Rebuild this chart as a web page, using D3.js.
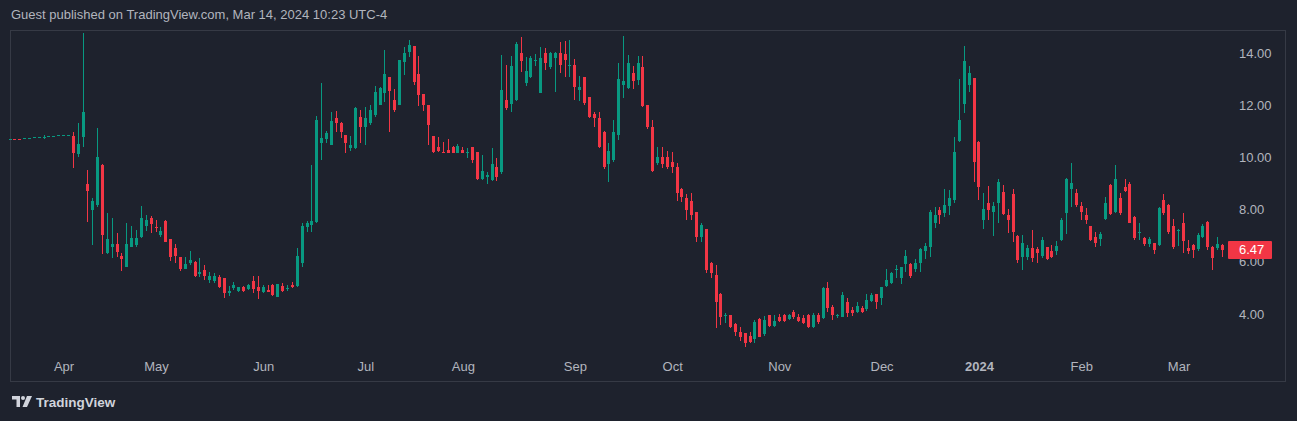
<!DOCTYPE html>
<html><head><meta charset="utf-8">
<script src="https://cdn.jsdelivr.net/npm/d3@7"></script>
<style>
html,body{margin:0;padding:0;background:#1e222d;}
svg{display:block;}
</style></head><body>
<svg id="c" width="1297" height="421"></svg>
<script>
const openP = [
10.69,10.71,10.72,10.72,10.74,10.76,10.77,10.78,10.80,10.82,10.83,10.84,10.85,
10.82,10.13,10.77,8.98,7.98,8.18,9.71,6.35,6.58,6.68,
6.22,5.81,6.58,6.64,6.94,7.37,7.67,7.35,7.02,7.58,
6.89,6.52,6.20,5.71,5.97,6.00,5.52,5.69,5.30,5.25,
5.43,5.37,4.79,4.98,4.89,5.02,4.96,5.28,5.05,4.86,
4.92,5.11,4.64,5.07,4.98,5.11,5.07,5.97,7.32,7.41,
7.54,10.56,10.69,10.48,11.52,11.31,10.86,10.35,10.35,11.54,
11.18,11.33,11.62,12.01,12.48,13.09,12.20,12.01,13.67,14.05,
14.27,13.20,12.43,12.01,10.82,10.39,10.22,10.28,10.39,10.18,
10.28,10.20,10.39,10.22,9.16,9.26,9.13,9.64,9.43,12.20,
12.05,12.20,14.01,12.84,13.07,13.70,12.48,14.01,13.48,13.80,
14.01,13.96,13.53,13.54,12.58,13.09,12.33,11.66,11.50,10.98,
9.75,9.90,10.86,12.77,12.65,13.22,12.97,13.48,12.01,11.18,
9.77,10.00,10.00,9.84,9.64,8.78,8.43,8.34,7.92,6.96,
7.24,5.94,5.49,4.77,3.92,3.96,3.62,3.32,3.26,3.16,
3.03,3.80,3.23,3.96,3.54,3.87,3.96,3.80,4.07,3.90,
3.84,3.96,3.51,3.96,3.84,4.98,4.26,3.95,3.90,4.47,
4.15,4.09,4.22,4.18,4.51,4.77,4.60,5.07,5.20,5.70,
5.37,5.92,5.92,5.71,5.97,6.43,6.58,7.48,7.98,7.86,
8.14,8.37,10.64,12.05,12.77,13.03,10.60,7.60,8.24,7.92,
8.24,8.69,7.79,8.60,6.99,6.20,6.20,6.52,6.48,6.22,
6.56,6.43,6.43,6.84,7.86,8.78,8.62,8.14,7.79,7.37,
6.94,6.86,7.63,8.94,7.92,8.43,8.88,8.98,7.73,7.14,
6.90,6.67,6.71,6.64,8.37,8.18,7.37,7.18,7.50,6.52,
6.64,6.48,6.96,7.54,6.58,6.52,6.65];
const highP = [
10.70,10.71,10.72,10.74,10.75,10.77,10.78,10.84,10.82,10.83,10.84,10.86,10.87,
10.98,11.31,14.75,9.52,8.43,11.12,9.75,7.86,7.67,7.09,
6.33,7.48,7.37,7.22,8.14,7.79,7.75,7.60,7.33,7.60,
6.89,6.67,6.20,6.17,6.43,6.04,6.13,5.88,5.62,5.58,
5.49,5.37,5.07,5.24,5.05,5.07,5.15,5.46,5.46,5.11,
5.11,5.15,5.15,5.18,5.11,5.24,6.52,7.50,7.58,9.71,
11.59,12.86,11.02,11.75,11.79,11.37,10.86,10.82,11.92,11.82,
11.92,12.01,12.74,12.70,14.11,13.09,12.61,13.75,14.24,14.50,
14.27,13.89,12.43,12.01,10.82,10.79,10.60,10.70,10.45,10.50,
10.40,10.35,10.39,10.22,10.09,9.45,10.35,9.97,13.92,13.54,
13.89,14.43,14.60,13.84,13.90,13.96,14.24,14.18,14.05,14.05,
14.43,14.47,14.50,13.76,13.12,13.09,12.33,11.75,11.75,11.02,
10.56,11.43,13.61,14.65,13.92,13.50,13.89,13.89,12.01,11.43,
10.41,10.38,10.25,10.22,9.77,8.82,8.60,8.62,7.92,7.48,
7.24,6.00,5.88,4.82,4.03,3.96,3.64,3.51,3.28,3.30,
3.77,3.85,3.92,3.96,3.96,4.00,4.00,4.00,4.15,4.00,
3.96,4.00,4.03,4.05,5.02,5.24,4.34,4.00,4.86,4.60,
4.25,4.45,4.30,4.77,4.82,4.77,5.02,5.71,5.62,5.88,
5.79,6.45,5.97,6.10,6.52,6.71,7.98,8.11,8.09,8.78,
8.75,10.79,12.99,14.27,13.50,13.03,10.64,8.62,8.90,8.30,
9.16,8.95,8.01,8.78,7.03,7.03,6.65,7.22,6.55,6.94,
6.56,6.65,6.80,7.68,9.20,9.77,8.80,8.30,8.05,7.37,
7.15,7.15,8.50,9.00,9.71,8.65,9.16,9.07,7.75,7.50,
6.95,6.95,6.73,8.10,8.60,8.22,7.65,7.24,7.88,6.84,
6.68,7.10,7.45,7.58,6.61,6.94,6.68];
const lowP = [
10.68,10.69,10.70,10.72,10.73,10.75,10.76,10.72,10.79,10.81,10.82,10.83,10.84,
9.58,10.03,10.39,7.54,6.64,8.11,6.30,6.30,6.16,6.20,
5.66,5.81,6.56,6.58,6.90,7.19,7.11,7.15,6.94,6.76,
6.04,5.97,5.66,5.71,5.88,5.43,5.43,5.30,5.18,5.18,
4.98,4.60,4.69,4.92,4.85,4.85,4.92,4.79,4.56,4.80,
4.88,4.69,4.64,4.85,4.89,5.00,5.05,5.79,7.15,7.15,
7.50,9.90,10.54,10.48,10.98,10.73,10.18,10.26,10.31,10.54,
10.48,11.24,11.54,12.01,12.13,10.98,11.75,12.01,13.16,13.86,
12.77,11.97,11.79,10.48,10.15,10.22,10.15,10.15,10.15,10.15,
10.15,9.97,9.80,9.13,9.13,8.98,9.11,9.11,9.36,11.82,
11.75,12.17,13.28,12.74,13.05,13.50,12.46,13.35,13.40,12.52,
13.22,13.09,13.09,12.20,12.17,12.00,11.50,11.18,10.36,9.54,
9.07,9.84,10.67,12.26,12.61,12.61,12.77,11.94,11.10,9.45,
9.71,9.60,9.55,9.39,8.34,8.30,7.60,7.60,6.77,6.77,
5.58,5.37,3.45,3.58,3.64,3.45,3.16,2.98,2.72,2.88,
2.88,3.10,3.16,3.50,3.50,3.70,3.70,3.77,3.80,3.70,
3.62,3.45,3.45,3.62,3.80,4.09,3.77,3.86,3.87,3.87,
3.92,4.03,4.05,4.13,4.45,4.18,4.34,5.02,5.15,5.37,
5.15,5.62,5.37,5.62,5.62,6.10,6.20,7.28,7.45,7.73,
7.80,8.27,10.60,11.71,12.52,9.07,8.37,7.24,7.60,6.99,
7.50,7.80,7.09,6.77,5.95,5.69,6.05,6.00,5.95,6.15,
6.05,6.15,6.25,6.80,7.05,8.11,8.10,7.60,7.45,6.80,
6.55,6.60,7.60,7.78,7.86,7.80,8.69,7.48,6.85,6.84,
6.60,6.55,6.30,6.60,7.79,7.05,6.50,6.60,6.35,6.30,
6.13,6.40,6.90,6.45,5.69,6.45,6.17];
const closeP = [
10.69,10.69,10.70,10.73,10.75,10.77,10.78,10.79,10.81,10.83,10.84,10.85,10.86,
10.18,10.51,11.75,8.72,8.34,10.00,7.03,6.86,6.68,6.38,
6.12,6.67,6.93,6.93,7.69,7.60,7.45,7.30,7.19,6.76,
6.20,6.22,5.72,5.92,6.07,5.47,5.62,5.47,5.47,5.45,
5.02,4.79,4.88,5.11,5.02,4.89,5.11,4.96,4.89,5.02,
4.83,4.73,5.15,4.89,5.00,5.02,6.22,7.37,7.50,7.58,
11.43,10.76,10.92,11.41,11.31,10.98,10.54,10.48,11.88,11.18,
11.50,11.82,12.52,12.65,13.20,12.56,11.82,13.73,13.99,14.31,
12.90,12.39,12.01,11.24,10.22,10.26,10.18,10.18,10.18,10.44,
10.18,10.21,9.90,9.16,9.49,9.33,9.75,9.26,12.58,11.88,
13.50,14.33,13.71,13.32,13.80,13.72,13.80,13.61,14.01,14.01,
13.54,13.73,13.55,12.69,12.71,12.07,11.54,11.50,10.39,9.62,
10.26,10.98,12.99,12.94,13.61,12.94,13.61,11.97,11.18,9.49,
10.00,9.75,9.62,9.62,8.62,8.47,7.98,7.79,6.96,7.41,
5.69,5.58,4.47,3.90,3.96,3.51,3.32,3.13,2.88,2.94,
3.71,3.13,3.77,3.54,3.74,3.74,3.74,3.96,3.87,3.74,
3.67,3.51,3.96,3.71,4.98,4.22,3.96,3.97,4.73,4.03,
4.03,4.31,4.09,4.54,4.73,4.47,5.02,5.30,5.58,5.72,
5.79,6.22,5.46,5.97,6.50,6.61,7.92,7.79,7.79,8.18,
8.43,10.22,11.43,13.71,13.24,9.84,8.85,8.01,7.98,8.14,
9.07,7.83,7.60,7.15,6.07,6.71,6.52,6.13,6.33,6.84,
6.10,6.20,6.61,7.60,9.16,9.01,8.18,7.92,7.60,6.84,
6.73,7.07,8.24,7.83,9.16,7.86,8.72,7.50,6.90,7.16,
6.68,6.86,6.45,8.05,7.86,7.15,6.56,7.20,6.81,6.43,
6.45,7.03,7.37,6.58,6.13,6.68,6.47];

const monthLabels = ["Apr","May","Jun","Jul","Aug","Sep","Oct","Nov","Dec","2024","Feb","Mar"];
const monthIndex  = [11,30,52,73,93,116,136,158,179,199,220,240];
const priceTicks  = [4,6,8,10,12,14];
const lastPrice   = 6.47;
const headerText  = "Guest published on TradingView.com, Mar 14, 2024 10:23 UTC-4";

const UP = "#089981", DOWN = "#f23645", TXT = "#b2b5be";
const FONT = "'Liberation Sans', Arial, sans-serif";
const svg = d3.select("#c");
const n = closeP.length;

const x = d3.scaleLinear().domain([0, n - 1]).range([10, 10 + (n - 1) * 4.869]);
const y = d3.scaleLinear().domain([4, 14]).range([314, 53]);

// frame
svg.append("rect").attr("x", 10.5).attr("y", 30.5).attr("width", 1275).attr("height", 351)
  .attr("fill", "none").attr("stroke", "#363a45").attr("stroke-width", 1);

// header
svg.append("text").attr("x", 11).attr("y", 19).attr("fill", TXT)
  .style("font-family", FONT).style("font-size", "13px").text(headerText);

// candles
const data = d3.range(n).map(i => ({i, o: openP[i], h: highP[i], l: lowP[i], c: closeP[i]}));
const g = svg.append("g");
const bw = 3;
g.selectAll("rect.wick").data(data).join("rect").attr("class", "wick")
  .attr("x", d => Math.round(x(d.i) - bw / 2) + 1)
  .attr("width", 1)
  .attr("y", d => Math.round(y(d.h)))
  .attr("height", d => Math.max(1, Math.round(y(d.l)) - Math.round(y(d.h))))
  .attr("fill", d => d.c >= d.o ? UP : DOWN);
g.selectAll("rect.body").data(data).join("rect").attr("class", "body")
  .attr("x", d => Math.round(x(d.i) - bw / 2))
  .attr("width", bw)
  .attr("y", d => Math.round(y(Math.max(d.o, d.c))))
  .attr("height", d => Math.max(1, Math.round(y(Math.min(d.o, d.c))) - Math.round(y(Math.max(d.o, d.c)))))
  .attr("fill", d => d.c >= d.o ? UP : DOWN);

// price axis
const yAxis = d3.axisRight(y).tickValues(priceTicks).tickFormat(d3.format(".2f")).tickSize(0).tickPadding(0);
const ya = svg.append("g").attr("transform", "translate(1239,0)").call(yAxis);
ya.select(".domain").remove();
ya.selectAll("text").attr("fill", TXT).style("font-family", FONT).style("font-size", "13px");

// time axis
const xAxis = d3.axisBottom(x).tickValues(monthIndex).tickFormat((d, k) => monthLabels[k]).tickSize(0).tickPadding(0);
const xa = svg.append("g").attr("transform", "translate(0,362)").call(xAxis);
xa.select(".domain").remove();
xa.selectAll("text").attr("fill", TXT).style("font-family", FONT).style("font-size", "13px")
  .style("font-weight", (d, k) => monthLabels[k] === "2024" ? "bold" : "normal");

// last price label
const ly = y(lastPrice);
svg.append("rect").attr("x", 1228).attr("y", Math.round(ly) - 9).attr("width", 44).attr("height", 18)
  .attr("fill", DOWN).attr("rx", 1);
svg.append("text").attr("x", 1239).attr("y", ly).attr("dy", "0.35em").attr("fill", "#ffffff")
  .style("font-family", FONT).style("font-size", "13px").text(lastPrice.toFixed(2));

// footer logo
const lg = svg.append("g").attr("transform", "translate(12,396)").attr("fill", "#d1d4dc");
lg.append("path").attr("d", "M0,0 H8 V11 H4.5 V3.5 H0 Z");
lg.append("circle").attr("cx", 11).attr("cy", 2).attr("r", 2);
lg.append("path").attr("d", "M15,0 H20 L15,11 H10.5 Z");
svg.append("text").attr("x", 36).attr("y", 407).attr("fill", "#d1d4dc")
  .style("font-family", FONT).style("font-size", "13.5px").style("font-weight", "bold").text("TradingView");
</script>
</body></html>
